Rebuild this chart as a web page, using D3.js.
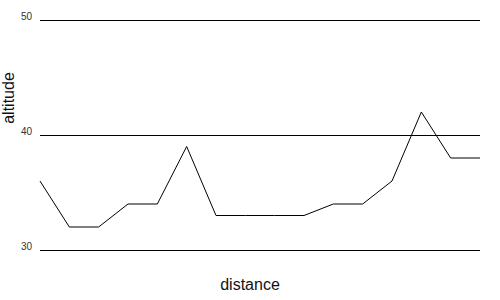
<!DOCTYPE html>
<html>
<head>
<meta charset="utf-8">
<script src="https://cdn.jsdelivr.net/npm/d3@7"></script>
<style>
  body { margin: 0; background: #fff; }
  text { font-family: "Liberation Sans", Arial, sans-serif; }
</style>
</head>
<body>
<script>
// altitude along the track, one sample per distance step
const distance = d3.range(16);
const altitude = [36, 32, 32, 34, 34, 39, 33, 33, 33, 33, 34, 34, 36, 42, 38, 38];
const yTicks = [30, 40, 50];

const width = 500, height = 300;
const margin = { top: 20, right: 20, bottom: 50, left: 40 };

const svg = d3.select("body").append("svg")
    .attr("width", width)
    .attr("height", height);

const x = d3.scaleLinear()
    .domain([0, distance.length - 1])
    .range([margin.left, width - margin.right]);

const y = d3.scaleLinear()
    .domain([30, 50])
    .range([height - margin.bottom, margin.top]);

// gridlines
svg.append("g")
    .selectAll("line")
    .data(yTicks)
    .join("line")
    .attr("x1", margin.left)
    .attr("x2", width - margin.right)
    .attr("y1", d => Math.round(y(d)) + 0.5)
    .attr("y2", d => Math.round(y(d)) + 0.5)
    .attr("stroke", "#000")
    .attr("stroke-width", 1);

// tick labels
svg.append("g")
    .selectAll("text")
    .data(yTicks)
    .join("text")
    .attr("x", margin.left - 8)
    .attr("y", d => y(d))
    .attr("text-anchor", "end")
    .attr("font-size", 10)
    .attr("fill", "#333")
    .text(d => d);

const line = d3.line()
    .x((d, i) => x(distance[i]))
    .y(d => y(d));

svg.append("path")
    .datum(altitude)
    .attr("fill", "none")
    .attr("stroke", "#000")
    .attr("stroke-width", 1)
    .attr("d", line);

svg.append("text")
    .attr("x", width / 2)
    .attr("y", 290)
    .attr("text-anchor", "middle")
    .attr("font-size", 16)
    .attr("fill", "#111")
    .text("distance");

svg.append("text")
    .attr("transform", "translate(14,98) rotate(-90)")
    .attr("text-anchor", "middle")
    .attr("font-size", 16)
    .attr("fill", "#111")
    .text("altitude");
</script>
</body>
</html>
